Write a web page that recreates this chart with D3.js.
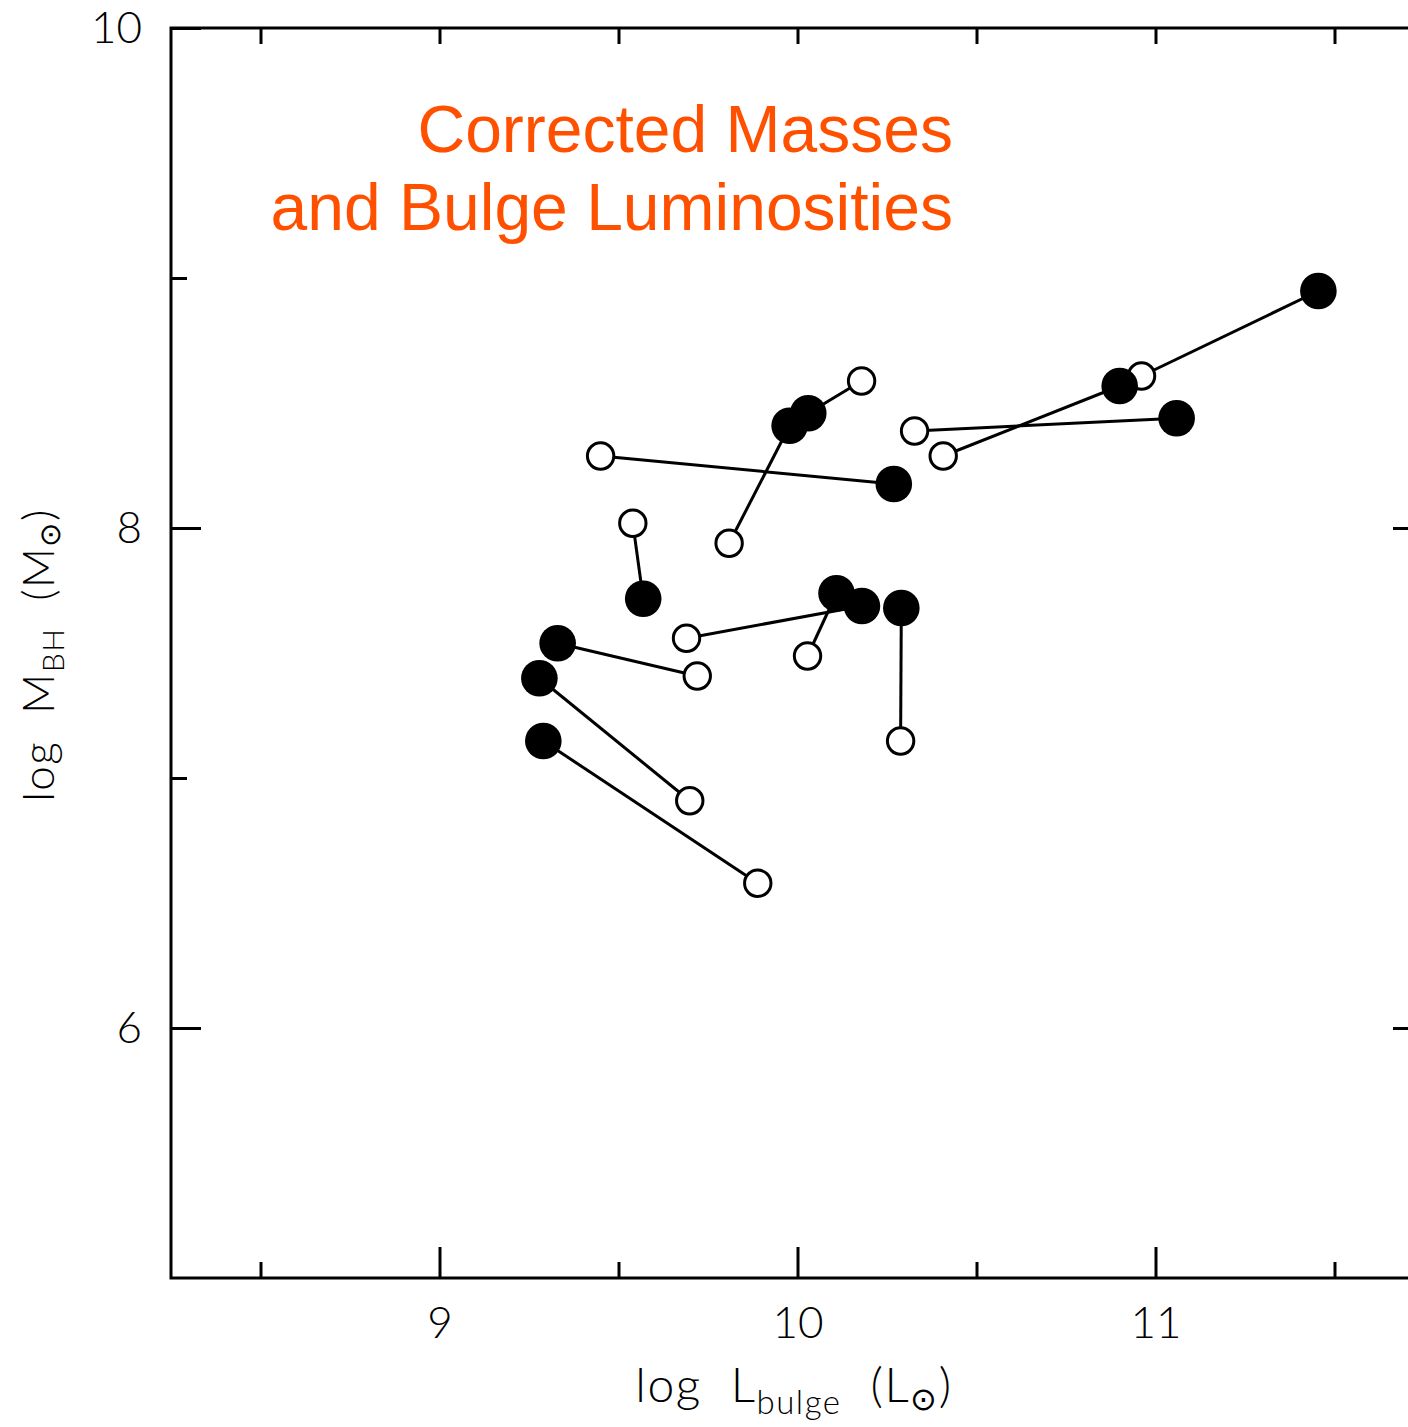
<!DOCTYPE html>
<html><head><meta charset="utf-8">
<script src="https://cdn.jsdelivr.net/npm/d3@7/dist/d3.min.js"></script>
<style>
body{margin:0;background:#fff}
svg{display:block}
.num{font-family:Lato,"DejaVu Sans",sans-serif;font-weight:300;font-size:44px;fill:#000}
.lab{font-family:Lato,"DejaVu Sans",sans-serif;font-weight:300;fill:#000;white-space:pre}
</style>
</head><body>
<svg id="c" width="1408" height="1427"></svg>
<script>
// Filled points (corrected) and open points (original), paired by index
const filledX = [11.455, 10.900, 11.059, 10.030, 9.978, 10.269, 9.569, 10.109, 10.180, 10.290, 9.330, 9.279, 9.290];
const filledY = [8.948, 8.568, 8.439, 8.459, 8.409, 8.176, 7.717, 7.739, 7.688, 7.680, 7.539, 7.399, 7.148];
const openX   = [10.961, 10.407, 10.327, 10.179, 9.809, 9.450, 9.540, 10.028, 9.690, 10.288, 9.720, 9.699, 9.889];
const openY   = [8.608, 8.288, 8.388, 8.588, 7.939, 8.288, 8.019, 7.488, 7.559, 7.148, 7.408, 6.909, 6.579];
const xMajor = [9, 10, 11];
const xMinor = [8.5, 9.5, 10.5, 11.5];
const yMajor = [6, 8, 10];
const yMinor = [7, 9];
const titleLines = ["Corrected Masses", "and Bulge Luminosities"];

const svg = d3.select("#c");
const x = d3.scaleLinear().domain([8.25, 11.75]).range([171, 1424]);
const y = d3.scaleLinear().domain([5, 10]).range([1278, 28]);

const styleAxis = g => {
  g.select(".domain").remove();
  g.selectAll(".tick line").attr("stroke", "#000").attr("stroke-width", 3);
  g.selectAll("text").attr("class", "num").attr("fill", null);
};
function axisG(gen, tr) {
  const g = svg.append("g").attr("transform", tr).call(gen);
  g.attr("font-size", null).attr("font-family", null);
  styleAxis(g);
  return g;
}
// bottom
axisG(d3.axisBottom(x).tickValues(xMajor).tickSize(-31).tickPadding(29).tickFormat(d3.format("d")), `translate(0,${y(5)})`);
axisG(d3.axisBottom(x).tickValues(xMinor).tickSize(-16).tickFormat(""), `translate(0,${y(5)})`);
// top
axisG(d3.axisTop(x).tickValues(xMajor.concat(xMinor)).tickSize(-16).tickFormat(""), `translate(0,${y(10)})`);
// left
axisG(d3.axisLeft(y).tickValues(yMajor).tickSize(-30).tickPadding(29).tickFormat(d3.format("d")), `translate(${x(8.25)},0)`);
axisG(d3.axisLeft(y).tickValues(yMinor).tickSize(-16).tickFormat(""), `translate(${x(8.25)},0)`);
// right
axisG(d3.axisRight(y).tickValues([6, 8]).tickSize(-31).tickFormat(""), `translate(${x(11.75)},0)`);
axisG(d3.axisRight(y).tickValues(yMinor).tickSize(-16).tickFormat(""), `translate(${x(11.75)},0)`);

// frame
svg.append("rect")
  .attr("x", x(8.25)).attr("y", y(10))
  .attr("width", x(11.75) - x(8.25)).attr("height", y(5) - y(10))
  .attr("fill", "none").attr("stroke", "#000").attr("stroke-width", 3);

// connecting lines
const idx = d3.range(filledX.length);
svg.append("g").selectAll("line").data(idx).join("line")
  .attr("x1", i => x(openX[i])).attr("y1", i => y(openY[i]))
  .attr("x2", i => x(filledX[i])).attr("y2", i => y(filledY[i]))
  .attr("stroke", "#000").attr("stroke-width", 3);

// open circles
svg.append("g").selectAll("circle").data(idx).join("circle")
  .attr("cx", i => x(openX[i])).attr("cy", i => y(openY[i])).attr("r", 13.2)
  .attr("fill", "#fff").attr("stroke", "#000").attr("stroke-width", 3);

// filled circles
svg.append("g").selectAll("circle").data(idx).join("circle")
  .attr("cx", i => x(filledX[i])).attr("cy", i => y(filledY[i])).attr("r", 18.3)
  .attr("fill", "#000");

// title
svg.append("g").selectAll("text").data(titleLines).join("text")
  .attr("x", 953).attr("y", (d, i) => 152 + i * 78)
  .attr("text-anchor", "end")
  .attr("font-family", "'Liberation Sans', Arial, sans-serif")
  .attr("font-size", 66).attr("fill", "#FF5000")
  .text(d => d);

// x label
const xl = svg.append("text").attr("class", "lab")
  .attr("x", 794).attr("y", 1402).attr("text-anchor", "middle")
  .attr("font-size", 48).attr("letter-spacing", 1.5);
xl.append("tspan").text("log  L");
xl.append("tspan").attr("font-size", 33).attr("dy", 12).text("bulge");
xl.append("tspan").attr("dy", -12).text("  (L");
xl.append("tspan").attr("font-size", 32).attr("dy", 8).attr("font-family", "'DejaVu Sans'").attr("font-weight", 200).text("\u2299");
xl.append("tspan").attr("dy", -8).text(")");

// y label
const yl = svg.append("text").attr("class", "lab")
  .attr("transform", "translate(54,655) rotate(-90)")
  .attr("text-anchor", "middle").attr("font-size", 44).attr("letter-spacing", 1.5);
yl.append("tspan").text("log  M");
yl.append("tspan").attr("font-size", 30).attr("dy", 10).text("BH");
yl.append("tspan").attr("dy", -10).text("  (M");
yl.append("tspan").attr("font-size", 29).attr("dy", 6).attr("font-family", "'DejaVu Sans'").attr("font-weight", 200).text("\u2299");
yl.append("tspan").attr("dy", -6).text(")");
</script>
</body></html>
